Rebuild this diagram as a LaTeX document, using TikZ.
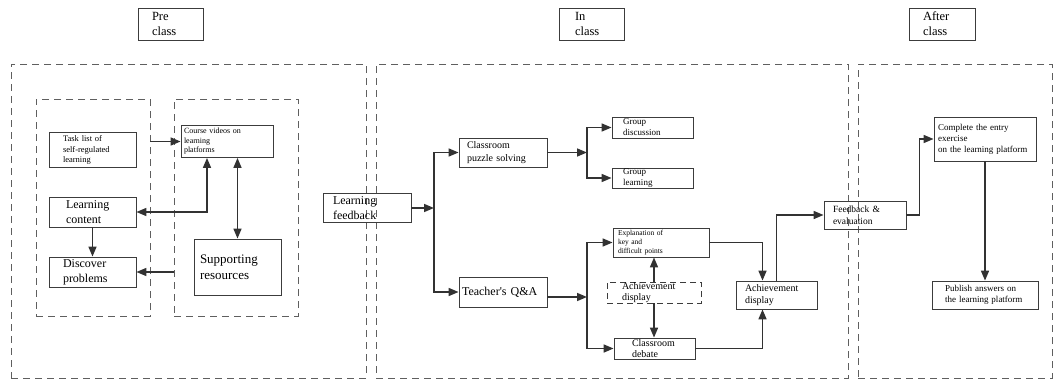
\documentclass[tikz,border=0pt]{standalone}
\usepackage{fontspec}
\setmainfont{Liberation Serif}
\usepackage{xcolor}
\usepackage{tikz}
\usetikzlibrary{arrows.meta,calc,positioning}
\definecolor{boxgrey}{RGB}{60,60,60}
\definecolor{flowgrey}{RGB}{50,50,50}
\definecolor{dashgrey}{RGB}{95,95,95}
\newcommand{\fs}[2]{\fontsize{#1}{#2}\selectfont}
\tikzset{
  stepbox/.style={draw=boxgrey,line width=0.8pt,align=left,inner ysep=0pt},
  dashbox/.style={draw=boxgrey,line width=0.8pt,dash pattern=on 6pt off 4pt,
    align=left,inner ysep=0pt},
  region/.style={draw=dashgrey,line width=0.7pt,dash pattern=on 7pt off 5pt,
    inner sep=0pt},
  flow/.style={-{Triangle[length=10pt,width=8pt]},line width=1.6pt,draw=flowgrey},
  twoway/.style={{Triangle[length=10pt,width=8pt]}-{Triangle[length=10pt,width=8pt]},
    line width=1.6pt,draw=flowgrey}
}
\begin{document}
\begin{tikzpicture}[x=1pt,y=-1pt]
  \useasboundingbox (0,0) rectangle (1054,380);
  % stage titles
  \node[stepbox,minimum width=65,minimum height=32,inner xsep=14,text width=37,font=\fs{12.5}{15}] (pre) at (170.5,24) {Pre\\class};
  \node[stepbox,minimum width=65,minimum height=32,inner xsep=16,text width=33,font=\fs{12.5}{15}] (in) at (591.5,24) {In\\class};
  \node[stepbox,minimum width=66,minimum height=32,inner xsep=14,text width=38,font=\fs{12.5}{15}] (after) at (942,24) {After\\class};
  % dashed regions
  \node[region,minimum width=355,minimum height=314] (preR) at (188.5,221) {};
  \node[region,minimum width=472,minimum height=314] (inR) at (612,221) {};
  \node[region,minimum width=194,minimum height=314] (afterR) at (955,221) {};
  \node[region,minimum width=114,minimum height=217] (selfR) at (93,207.5) {};
  \node[region,minimum width=124,minimum height=217] (platR) at (236,207.5) {};
  % pre class
  \node[stepbox,minimum width=87,minimum height=35,inner xsep=14,text width=59,font=\fs{8.5}{10.5}] (task) at (92.5,150) {Task list of\\self-regulated\\learning};
  \node[stepbox,minimum width=92,minimum height=32,inner xsep=3,text width=86,font=\fs{8}{9.5}] (video) at (227,141.5) {Course videos on\\learning\\platforms};
  \node[stepbox,minimum width=87,minimum height=30,inner xsep=17,text width=53,font=\fs{12}{15}] (content) at (92.5,212) {Learning\\ content};
  \node[stepbox,minimum width=87,minimum height=30,inner xsep=14,text width=59,font=\fs{12}{15}] (problem) at (92.5,272) {Discover\\problems};
  \node[stepbox,minimum width=87,minimum height=56,inner xsep=6,text width=75,font=\fs{13}{16}] (support) at (237.5,267) {Supporting\\resources};
  % in class
  \node[stepbox,minimum width=88,minimum height=29,inner xsep=10,text width=68,font=\fs{12}{15}] (feedin) at (367,208) {Learning\\feedback};
  \node[stepbox,minimum width=88,minimum height=29,inner xsep=8,text width=72,font=\fs{10}{12.5}] (puzzle) at (503,152.5) {Classroom\\puzzle solving};
  \node[stepbox,minimum width=88,minimum height=30,inner xsep=3,text width=82,font=\fs{12}{15}] (qa) at (503,292) {Teacher\textquotesingle s Q\&A};
  \node[stepbox,minimum width=81,minimum height=21,inner xsep=11,text width=59,font=\fs{9}{11}] (gdisc) at (652.5,127.5) {Group\\discussion};
  \node[stepbox,minimum width=81,minimum height=20,inner xsep=11,text width=59,font=\fs{9}{11}] (glearn) at (652.5,178) {Group\\learning};
  \node[stepbox,minimum width=96,minimum height=29,inner xsep=5,text width=86,font=\fs{7.5}{9}] (explain) at (661,242.5) {Explanation of\\key and\\difficult points};
  \node[dashbox,minimum width=94,minimum height=21,inner xsep=15,text width=64,font=\fs{10}{11.5}] (showdash) at (654,292.5) {Achievement\\display};
  \node[stepbox,minimum width=81,minimum height=21,inner xsep=18,text width=45,font=\fs{10}{11.5}] (debate) at (654.5,348.5) {Classroom\\debate};
  \node[stepbox,minimum width=81,minimum height=28,inner xsep=9,text width=63,font=\fs{10}{12}] (show) at (776.5,295) {Achievement\\display};
  \node[stepbox,minimum width=82,minimum height=28,inner xsep=9,text width=64,font=\fs{9.5}{12}] (evalu) at (865,215) {Feedback \&\\evaluation};
  % after class
  \node[stepbox,minimum width=102,minimum height=44,inner xsep=4,text width=94,font=\fs{9}{11}] (entry) at (985,139) {Complete the entry\\exercise\\on the learning platform};
  \node[stepbox,minimum width=106,minimum height=28,inner xsep=13,text width=80,font=\fs{9}{11}] (answer) at (985,295) {Publish answers on\\the learning platform};
  % junctions
  \coordinate (j1) at (434,208);
  \coordinate (j2) at (587,152.5);
  \coordinate (j3) at (587,297);
  % connectors, pre class
  \draw[flow] (selfR.east |- video.west) -- (video.west);
  \draw[twoway] (content.east) -| ([xshift=-20]video.south);
  \draw[twoway] (support.north |- video.south) -- (support.north);
  \draw[flow] (content.south) -- (problem.north);
  \draw[flow] (platR.west |- problem.east) -- (problem.east);
  % connectors, in class
  \draw[flow] (feedin.east) -- (j1);
  \draw[flow] (j1) |- (puzzle.west);
  \draw[flow] (j1) |- (qa.west);
  \draw[flow] (puzzle.east) -- (j2);
  \draw[flow] (j2) |- (gdisc.west);
  \draw[flow] (j2) |- (glearn.west);
  \draw[flow] (qa.east |- j3) -- (j3);
  \draw[flow] (j3) |- (explain.west);
  \draw[flow] (j3) |- (debate.west);
  \draw[flow] (showdash.north) -- (showdash.north |- explain.south);
  \draw[flow] (showdash.south) -- (showdash.south |- debate.north);
  \draw[flow] (explain.east) -| ([xshift=-14]show.north);
  \draw[flow] (debate.east) -| ([xshift=-14]show.south);
  \draw[flow] (show.north) |- (evalu.west);
  % connectors, after class
  \draw[flow] (evalu.east) -- ++(13,0) |- (entry.west);
  \draw[flow] (entry.south) -- (answer.north);
\end{tikzpicture}
\end{document}
